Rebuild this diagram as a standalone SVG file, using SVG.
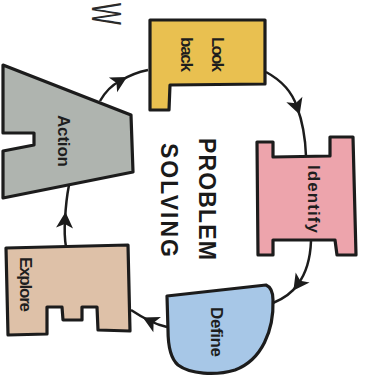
<svg xmlns="http://www.w3.org/2000/svg" width="366" height="383" viewBox="0 0 366 383">
<style>
.shape{stroke:#1c1c1c;stroke-width:3.2;stroke-linejoin:round}
.lbl{font-family:"Liberation Sans",Arial,sans-serif;font-size:17px;font-weight:bold;fill:#1e1e1e}
.title{font-family:"Liberation Sans",Arial,sans-serif;font-size:23px;font-weight:bold;fill:#1a1a1a}
.conn{fill:none;stroke:#1c1c1c;stroke-width:2.5;marker-mid:url(#ah)}
</style>
<defs>
<marker id="ah" markerUnits="userSpaceOnUse" viewBox="-9 -9 18 18" refX="0" refY="0" markerWidth="18" markerHeight="18" orient="auto" overflow="visible">
<path d="M8,0 L-8,-8.5 L-4,0 L-8,8.5 Z" fill="#1c1c1c"/>
</marker>
</defs>
<rect width="366" height="383" fill="#ffffff"/>
<text transform="translate(92,3) rotate(90) scale(0.55,1)" style="font-family:'Liberation Sans',Arial,sans-serif;font-size:42px;fill:#2a2a2a">W</text>
<g id="connectors">
<path class="conn" d="M100,101 Q108,87 120,81 Q133,73 148,70"/>
<path class="conn" d="M266,72 Q290,85 297,107 Q305,128 306,156"/>
<path class="conn" d="M311,241 Q310,268 298,284 Q290,296 273,303"/>
<path class="conn" d="M167,327 Q158,325 150,321 Q140,316 131,310"/>
<path class="conn" d="M66,247 Q64,235 65,220 Q66,200 69,185"/>
</g>
<g id="look-back">
<path class="shape" fill="#E9C050" d="M150,20 L265,20 L265,84 L170,85 L169,110 L150,110 Z"/>
<text class="lbl" transform="translate(212,37) rotate(90)" textLength="35" lengthAdjust="spacing">Look</text>
<text class="lbl" transform="translate(181,37) rotate(90)" textLength="35" lengthAdjust="spacing">back</text>
</g>
<g id="action">
<path class="shape" fill="#AFB4AF" d="M3,65 L131,115 L133,172 L3,198 L3,151 L34,145 L34,133 L3,133 Z"/>
<text class="lbl" transform="translate(58,115) rotate(90)" textLength="52" lengthAdjust="spacing">Action</text>
</g>
<g id="identify">
<path class="shape" fill="#EDA4AC" d="M257,142 L273,142 L273,157 L330,156 L330,137 L353,137 L356,255 L337,255 L335,240 L273,240 L273,255 L258,255 Z"/>
<text class="lbl" transform="translate(308,165) rotate(90)" textLength="68" lengthAdjust="spacing">Identify</text>
</g>
<g id="define">
<path class="shape" fill="#A7C7E7" d="M167,296 L266,285 Q273,288 273,300 C274,330 262,360 235,370 C215,376 190,374 178,365 C170,358 168,345 168,330 Z"/>
<text class="lbl" transform="translate(211,307) rotate(90)" textLength="50" lengthAdjust="spacing">Define</text>
</g>
<g id="explore">
<path class="shape" fill="#DEC1A8" d="M6,248 L128,245 L130,331 L98,330 L97,307 L82,307 L82,320 L63,320 L62,307 L47,307 L47,334 L8,335 Z"/>
<text class="lbl" transform="translate(20,257) rotate(90)" textLength="55" lengthAdjust="spacing">Explore</text>
</g>
<g id="title">
<text class="title" transform="translate(199,138) rotate(90)" textLength="122" lengthAdjust="spacing">PROBLEM</text>
<text class="title" transform="translate(161,143) rotate(90)" textLength="114" lengthAdjust="spacing">SOLVING</text>
</g>
</svg>
